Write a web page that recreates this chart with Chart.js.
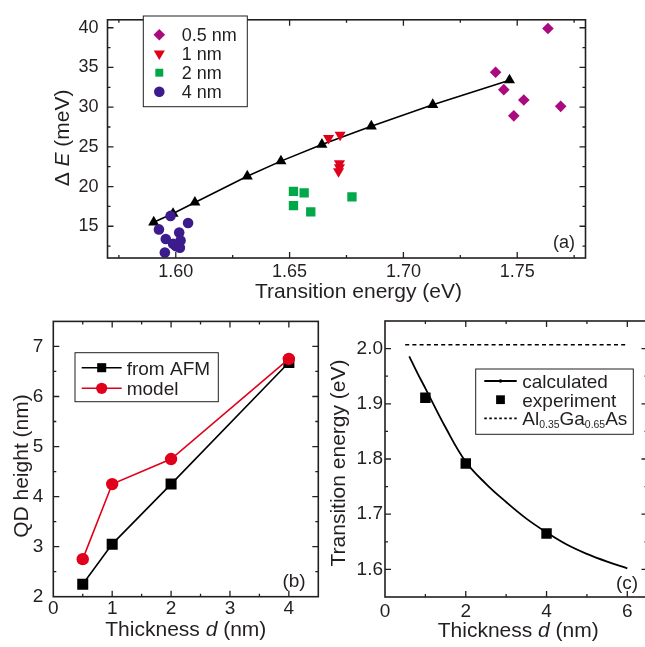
<!DOCTYPE html>
<html lang="en">
<head>
<meta charset="UTF-8">
<title>QD linewidth, height and transition energy</title>
<script src="https://cdn.jsdelivr.net/npm/chart.js"></script>
<style>
  html, body { margin: 0; padding: 0; background: #fff; overflow: hidden; }
  body { width: 645px; height: 647px; position: relative; }
  canvas { position: absolute; }
  #chartA { left: 0; top: 0; }
  #chartB { left: 0; top: 300px; }
  #chartC { left: 322px; top: 300px; }
</style>
</head>
<body>
<canvas id="chartA" width="645" height="312"></canvas>
<canvas id="chartB" width="330" height="347"></canvas>
<canvas id="chartC" width="340" height="347"></canvas>

<script>
// ---- (a) linewidth vs transition energy ----
const aLabels = ['0.5 nm', '1 nm', '2 nm', '4 nm'];
const aE05 = [1.7405, 1.7441, 1.7485, 1.7529, 1.7635, 1.7691];
const aW05 = [34.4, 32.2, 28.9, 30.9, 39.9, 30.1];
const aE1 = [1.6671, 1.6722, 1.6719, 1.6719, 1.6715];
const aW1 = [26.1, 26.5, 22.9, 22.4, 21.9];
const aE2 = [1.6517, 1.6564, 1.6517, 1.6593, 1.6774];
const aW2 = [19.4, 19.2, 17.6, 16.8, 18.7];
const aE4 = [1.5926, 1.5977, 1.5956, 1.6015, 1.6054, 1.6021, 1.6000, 1.6018, 1.5952, 1.5988];
const aW4 = [14.6, 16.3, 13.4, 14.2, 15.4, 13.2, 12.5, 12.3, 11.7, 12.8];
const aEcalc = [1.5903, 1.5988, 1.6084, 1.6314, 1.6462, 1.6642, 1.6859, 1.7129, 1.7466];
const aWcalc = [15.5, 16.6, 18.0, 21.3, 23.2, 25.3, 27.6, 30.3, 33.4];
const aXTicks = [1.60, 1.65, 1.70, 1.75];
const aXTickLabels = ['1.60', '1.65', '1.70', '1.75'];
const aYTicks = [15, 20, 25, 30, 35, 40];

// ---- (b) QD height vs thickness ----
const bThick = [0.5, 1, 2, 4];
const bAFM = [2.25, 3.05, 4.25, 6.68];
const bModel = [2.75, 4.25, 4.75, 6.75];
const bXTicks = [0, 1, 2, 3, 4];
const bYTicks = [2, 3, 4, 5, 6, 7];

// ---- (c) transition energy vs thickness ----
const cCalcD = [0.6, 0.8, 1, 1.5, 2, 2.5, 3, 3.5, 4, 4.5, 5, 5.5, 6];
const cCalcE = [1.986, 1.956, 1.928, 1.857, 1.795, 1.755, 1.722, 1.692, 1.667, 1.645, 1.628, 1.614, 1.602];
const cExpD = [1, 2, 4];
const cExpE = [1.911, 1.792, 1.665];
const cBarrierD = [0.5, 6];
const cBarrierE = [2.007, 2.007];
const cXTicks = [0, 2, 4, 6];
const cYTicks = [1.6, 1.7, 1.8, 1.9, 2.0];
const cYTickLabels = ['1.6', '1.7', '1.8', '1.9', '2.0'];

const FONT = '"Liberation Sans", Arial, sans-serif';
const INK = '#231f20';
const pts = (xs, ys) => xs.map((x, i) => ({ x: x, y: ys[i] }));

// text with italic / subscript pieces, y = middle of capitals
function drawRich(ctx, segs, x, y, size, align) {
  const pieces = segs.map(s => {
    const sz = s.sub ? size * 0.55 : size;
    const font = (s.it ? 'italic ' : '') + sz + 'px ' + FONT;
    ctx.font = font;
    return { t: s.t, font: font, w: ctx.measureText(s.t).width, dy: s.sub ? size * 0.16 : 0 };
  });
  const total = pieces.reduce((a, p) => a + p.w, 0);
  let cx = align === 'center' ? x - total / 2 : x;
  ctx.textAlign = 'left';
  ctx.textBaseline = 'alphabetic';
  const base = y + size * 0.36;
  pieces.forEach(p => {
    ctx.font = p.font;
    ctx.fillText(p.t, cx, base + p.dy);
    cx += p.w;
  });
}

function ticksIn(ctx, scale, a, minor) {
  const majors = scale.ticks.map(t => t.value);
  const vals = [];
  for (let v = majors[0]; v >= scale.min - 1e-9; v -= minor) vals.push(v);
  for (let v = majors[0] + minor; v <= scale.max + 1e-9; v += minor) vals.push(v);
  ctx.beginPath();
  vals.forEach(v => {
    const len = majors.some(m => Math.abs(m - v) < minor / 10) ? 6 : 3;
    const p = scale.getPixelForValue(v);
    if (scale.isHorizontal()) {
      if (p < a.left + 1 || p > a.right - 1) return;
      ctx.moveTo(p, a.bottom); ctx.lineTo(p, a.bottom - len);
      ctx.moveTo(p, a.top); ctx.lineTo(p, a.top + len);
    } else {
      if (p < a.top + 1 || p > a.bottom - 1) return;
      ctx.moveTo(a.left, p); ctx.lineTo(a.left + len, p);
      ctx.moveTo(a.right, p); ctx.lineTo(a.right - len, p);
    }
  });
  ctx.stroke();
}

const decor = {
  id: 'decor',
  afterDraw(chart, args, o) {
    const { ctx, chartArea: a } = chart;
    ctx.save();
    ctx.strokeStyle = INK;
    ctx.lineWidth = 1.3;
    ticksIn(ctx, chart.scales.x, a, o.xMinor);
    ticksIn(ctx, chart.scales.y, a, o.yMinor);
    ctx.lineWidth = 1.6;
    ctx.strokeRect(a.left, a.top, a.right - a.left, a.bottom - a.top);

    ctx.fillStyle = INK;
    drawRich(ctx, o.xTitle, (a.left + a.right) / 2 + o.xTitleShift, o.xTitleY, o.titleSize, 'center');
    ctx.save();
    ctx.translate(o.yTitleX, (a.top + a.bottom) / 2 + o.yTitleShift);
    ctx.rotate(-Math.PI / 2);
    drawRich(ctx, o.yTitle, 0, 0, o.titleSize, 'center');
    ctx.restore();

    // legend
    const L = o.legend;
    ctx.fillStyle = '#fff';
    ctx.fillRect(L.x, L.y, L.w, L.h);
    ctx.strokeStyle = INK;
    ctx.lineWidth = 1;
    ctx.strokeRect(L.x, L.y, L.w, L.h);
    let row = 0;
    chart.data.datasets.forEach(ds => {
      if (!ds.legendKind) return;
      const y = L.row0 + row * L.dy;
      row++;
      if (ds.legendKind.indexOf('line') >= 0) {
        ctx.save();
        ctx.strokeStyle = ds.borderColor;
        ctx.lineWidth = ds.borderWidth;
        ctx.setLineDash(ds.legendDash || []);
        ctx.beginPath();
        ctx.moveTo(L.x0, y); ctx.lineTo(L.x1, y);
        ctx.stroke();
        ctx.restore();
      }
      if (ds.legendKind.indexOf('marker') >= 0) {
        ctx.fillStyle = ds.backgroundColor;
        Chart.helpers.drawPoint(ctx, {
          pointStyle: ds.pointStyle, rotation: ds.pointRotation || 0,
          radius: ds.legendRadius || ds.pointRadius, borderWidth: 0
        }, L.xm, y);
      }
      ctx.fillStyle = INK;
      drawRich(ctx, ds.rich || [{ t: ds.label }], L.xt, y, L.size, 'left');
    });

    drawRich(ctx, [{ t: o.tag }], o.tagX, o.tagY, o.tagSize, 'center');
    ctx.restore();
  }
};

function axis(min, max, tickVals, labels, size, pad, fitSize, horizontal) {
  return {
    type: 'linear', min: min, max: max,
    afterBuildTicks: s => { s.ticks = tickVals.map(v => ({ value: v })); },
    afterFit: s => { if (horizontal) s.height = fitSize; else s.width = fitSize; },
    ticks: {
      autoSkip: false, maxRotation: 0, padding: pad, color: INK,
      font: { family: FONT, size: size },
      callback: (v, i) => labels ? labels[i] : String(v)
    },
    grid: { display: false, drawTicks: false },
    border: { display: false }
  };
}

// ---------- (a) ----------
new Chart(document.getElementById('chartA'), {
  type: 'scatter',
  data: {
    datasets: [
      { label: aLabels[0], data: pts(aE05, aW05), pointStyle: 'rectRot', pointRadius: 5.8,
        backgroundColor: '#aa0a7e', pointBorderWidth: 0, legendKind: 'marker', order: 1 },
      { label: aLabels[1], data: pts(aE1, aW1), pointStyle: 'triangle', pointRotation: 180, pointRadius: 6.4,
        backgroundColor: '#e1001b', pointBorderWidth: 0, legendKind: 'marker', order: 1 },
      { label: aLabels[2], data: pts(aE2, aW2), pointStyle: 'rect', pointRadius: 6.6, legendRadius: 5.6,
        backgroundColor: '#00a84a', pointBorderWidth: 0, legendKind: 'marker', order: 1 },
      { label: aLabels[3], data: pts(aE4, aW4), pointStyle: 'circle', pointRadius: 5.3,
        backgroundColor: '#3c1c8c', pointBorderWidth: 0, legendKind: 'marker', order: 1 },
      { label: 'calculated', data: pts(aEcalc, aWcalc), showLine: true, borderColor: '#000', borderWidth: 1.6,
        pointStyle: 'triangle', pointRadius: 6.4, backgroundColor: '#000', pointBorderWidth: 0, order: 2 }
    ]
  },
  options: {
    responsive: false, animation: false, events: [],
    layout: { padding: { left: 0, top: 7, right: 59.5, bottom: 0 } },
    scales: {
      x: axis(1.57, 1.78, aXTicks, aXTickLabels, 18, 3, 54, true),
      y: axis(11, 41, aYTicks, null, 18, 9, 107.5, false)
    },
    plugins: {
      legend: { display: false }, tooltip: { enabled: false },
      decor: {
        xMinor: 0.025, yMinor: 2.5, titleSize: 21,
        xTitle: [{ t: 'Transition energy (eV)' }], xTitleY: 290, xTitleShift: 12,
        yTitle: [{ t: 'Δ ' }, { t: 'E', it: true }, { t: ' (meV)' }], yTitleX: 61, yTitleShift: -1,
        legend: { x: 143.3, y: 16, w: 104, h: 90.7, row0: 34.7, dy: 19, x0: 0, x1: 0, xm: 159.3, xt: 181.7, size: 18 },
        tag: '(a)', tagX: 564, tagY: 242, tagSize: 18
      }
    }
  },
  plugins: [decor]
});

// ---------- (b) ----------
new Chart(document.getElementById('chartB'), {
  type: 'scatter',
  data: {
    datasets: [
      { label: 'from AFM', data: pts(bThick, bAFM), showLine: true, borderColor: '#000', borderWidth: 1.6,
        pointStyle: 'rect', pointRadius: 7.8, legendRadius: 6.4, backgroundColor: '#000', pointBorderWidth: 0,
        legendKind: 'line marker', order: 1 },
      { label: 'model', data: pts(bThick, bModel), showLine: true, borderColor: '#e1001b', borderWidth: 1.6,
        pointStyle: 'circle', pointRadius: 6.2, legendRadius: 5.6, backgroundColor: '#e1001b', pointBorderWidth: 0,
        legendKind: 'line marker', order: 0 }
    ]
  },
  options: {
    responsive: false, animation: false, events: [],
    layout: { padding: { left: 0, top: 20.7, right: 11.7, bottom: 0 } },
    scales: {
      x: axis(0, 4.5, bXTicks, null, 19, 1, 50.3, true),
      y: axis(2, 7.5, bYTicks, null, 19, 10, 53.3, false)
    },
    plugins: {
      legend: { display: false }, tooltip: { enabled: false },
      decor: {
        xMinor: 0.5, yMinor: 0.5, titleSize: 21,
        xTitle: [{ t: 'Thickness ' }, { t: 'd', it: true }, { t: ' (nm)' }], xTitleY: 328.3, xTitleShift: 0,
        yTitle: [{ t: 'QD height (nm)' }], yTitleX: 20.5, yTitleShift: 7,
        legend: { x: 75, y: 52.7, w: 143.3, h: 49, row0: 67.7, dy: 20.6, x0: 81.7, x1: 121.7, xm: 101.7, xt: 126.7, size: 19 },
        tag: '(b)', tagX: 294, tagY: 280, tagSize: 19
      }
    }
  },
  plugins: [decor]
});

// ---------- (c) ----------
new Chart(document.getElementById('chartC'), {
  type: 'scatter',
  data: {
    datasets: [
      { label: 'calculated', data: pts(cCalcD, cCalcE), showLine: true, borderColor: '#000', borderWidth: 1.8,
        tension: 0.4, pointRadius: 0, pointStyle: 'circle', legendRadius: 1.8,
        backgroundColor: '#000', legendKind: 'line marker', order: 1 },
      { label: 'experiment', data: pts(cExpD, cExpE), pointStyle: 'rect', pointRadius: 7.4, legendRadius: 6.2,
        backgroundColor: '#000', pointBorderWidth: 0, legendKind: 'marker', order: 0 },
      { label: 'Al0.35Ga0.65As', data: pts(cBarrierD, cBarrierE), showLine: true, borderColor: '#000',
        borderWidth: 1.6, borderDash: [4, 3.2], legendDash: [2.5, 2.5], pointRadius: 0, legendKind: 'line', order: 2,
        rich: [{ t: 'Al' }, { t: '0.35', sub: true }, { t: 'Ga' }, { t: '0.65', sub: true }, { t: 'As' }] }
    ]
  },
  options: {
    responsive: false, animation: false, events: [],
    layout: { padding: { left: 0, top: 21, right: 14.5, bottom: 0 } },
    scales: {
      x: axis(0, 6.5, cXTicks, null, 19, 3.5, 50, true),
      y: axis(1.55, 2.05, cYTicks, cYTickLabels, 19, 2, 63, false)
    },
    plugins: {
      legend: { display: false }, tooltip: { enabled: false },
      decor: {
        xMinor: 1, yMinor: 0.05, titleSize: 21,
        xTitle: [{ t: 'Thickness ' }, { t: 'd', it: true }, { t: ' (nm)' }], xTitleY: 329.3, xTitleShift: 2,
        yTitle: [{ t: 'Transition energy (eV)' }], yTitleX: 15, yTitleShift: 4,
        legend: { x: 153.7, y: 69, w: 157.6, h: 65.3, row0: 81, dy: 18.7, x0: 162.3, x1: 194.7, xm: 178.5, xt: 200.3, size: 19 },
        tag: '(c)', tagX: 305, tagY: 282, tagSize: 19
      }
    }
  },
  plugins: [decor]
});
</script>
</body>
</html>
